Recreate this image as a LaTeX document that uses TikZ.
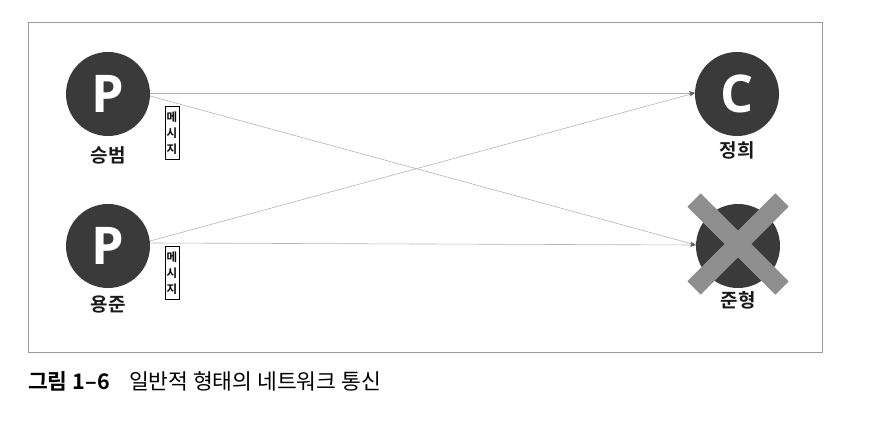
\documentclass[tikz,border=0pt]{standalone}
\usepackage{fontspec}
\setmainfont{Noto Sans}
\newfontfamily\krfont{Noto Sans CJK KR}
\newfontfamily\krbold{Noto Sans CJK KR Bold}
\newfontfamily\letterfont{Open Sans}
\usetikzlibrary{arrows.meta}
\definecolor{dark}{HTML}{3A3A3A}
\definecolor{crossgray}{HTML}{8E8E8E}
\definecolor{linegray}{HTML}{B4B4B4}
\definecolor{framegray}{HTML}{9A9A9A}
\begin{document}
\begin{tikzpicture}[x=1pt,y=-1pt,
  peer/.style={circle,fill=dark,minimum size=84pt,inner sep=0pt,text=white,
    font=\letterfont\bfseries\fontsize{52}{52}\selectfont},
  plabel/.style={font=\krbold\fontsize{19}{19}\selectfont,text=black!90,inner sep=0pt},
  msg/.style={draw=black,line width=0.6pt,minimum width=14pt,minimum height=53pt,inner sep=0pt,
    font=\krbold\fontsize{11.5}{16}\selectfont,align=center},
  link/.style={draw=linegray,line width=0.6pt,-{Stealth[length=6pt,width=4pt,fill=dark!80,color=dark!80]}},
  bar/.style={draw=crossgray,line width=19pt}]
\useasboundingbox (0,0) rectangle (870,422);
\draw[framegray,line width=1pt] (28,23) rectangle (822,352);

\node[peer] (sb) at (108,94) {P};
\node[peer] (yj) at (108,246) {P};
\node[peer] (jh) at (737,94) {C};
\node[peer] (jun) at (738,246) {};

\node[plabel] (sbl) at (108,155) {승범};
\node[plabel] (yjl) at (108,305) {용준};
\node[plabel] (jhl) at (737,150) {정희};
\node[plabel] (junl) at (738,300) {준형};

\node[msg] (m1) at (172,133) {메\\시\\지};
\node[msg] (m2) at (172,273) {메\\시\\지};

\coordinate (sbA) at (150,93);
\coordinate (sbB) at (150,96);
\coordinate (yjA) at (150,241);
\coordinate (yjB) at (150,243);
\coordinate (jhIn) at (695,93);
\coordinate (junIn) at (696,245);

\draw[link] (sbA) -- (jhIn);
\draw[link] (sbB) -- (junIn);
\draw[link] (yjA) -- (jhIn);
\draw[link] (yjB) -- (junIn);

\coordinate (x1) at (694,200);
\coordinate (x2) at (782,288);
\coordinate (x3) at (782,200);
\coordinate (x4) at (694,288);
\draw[bar] (x1) -- (x2);
\draw[bar] (x3) -- (x4);

\node[anchor=west,inner sep=0pt,font=\fontsize{21.5}{21.5}\selectfont] (cap) at (28,381)
  {{\krbold 그림 1–6}\hspace{0.9em}{\krfont 일반적 형태의 네트워크 통신}};
\end{tikzpicture}
\end{document}
